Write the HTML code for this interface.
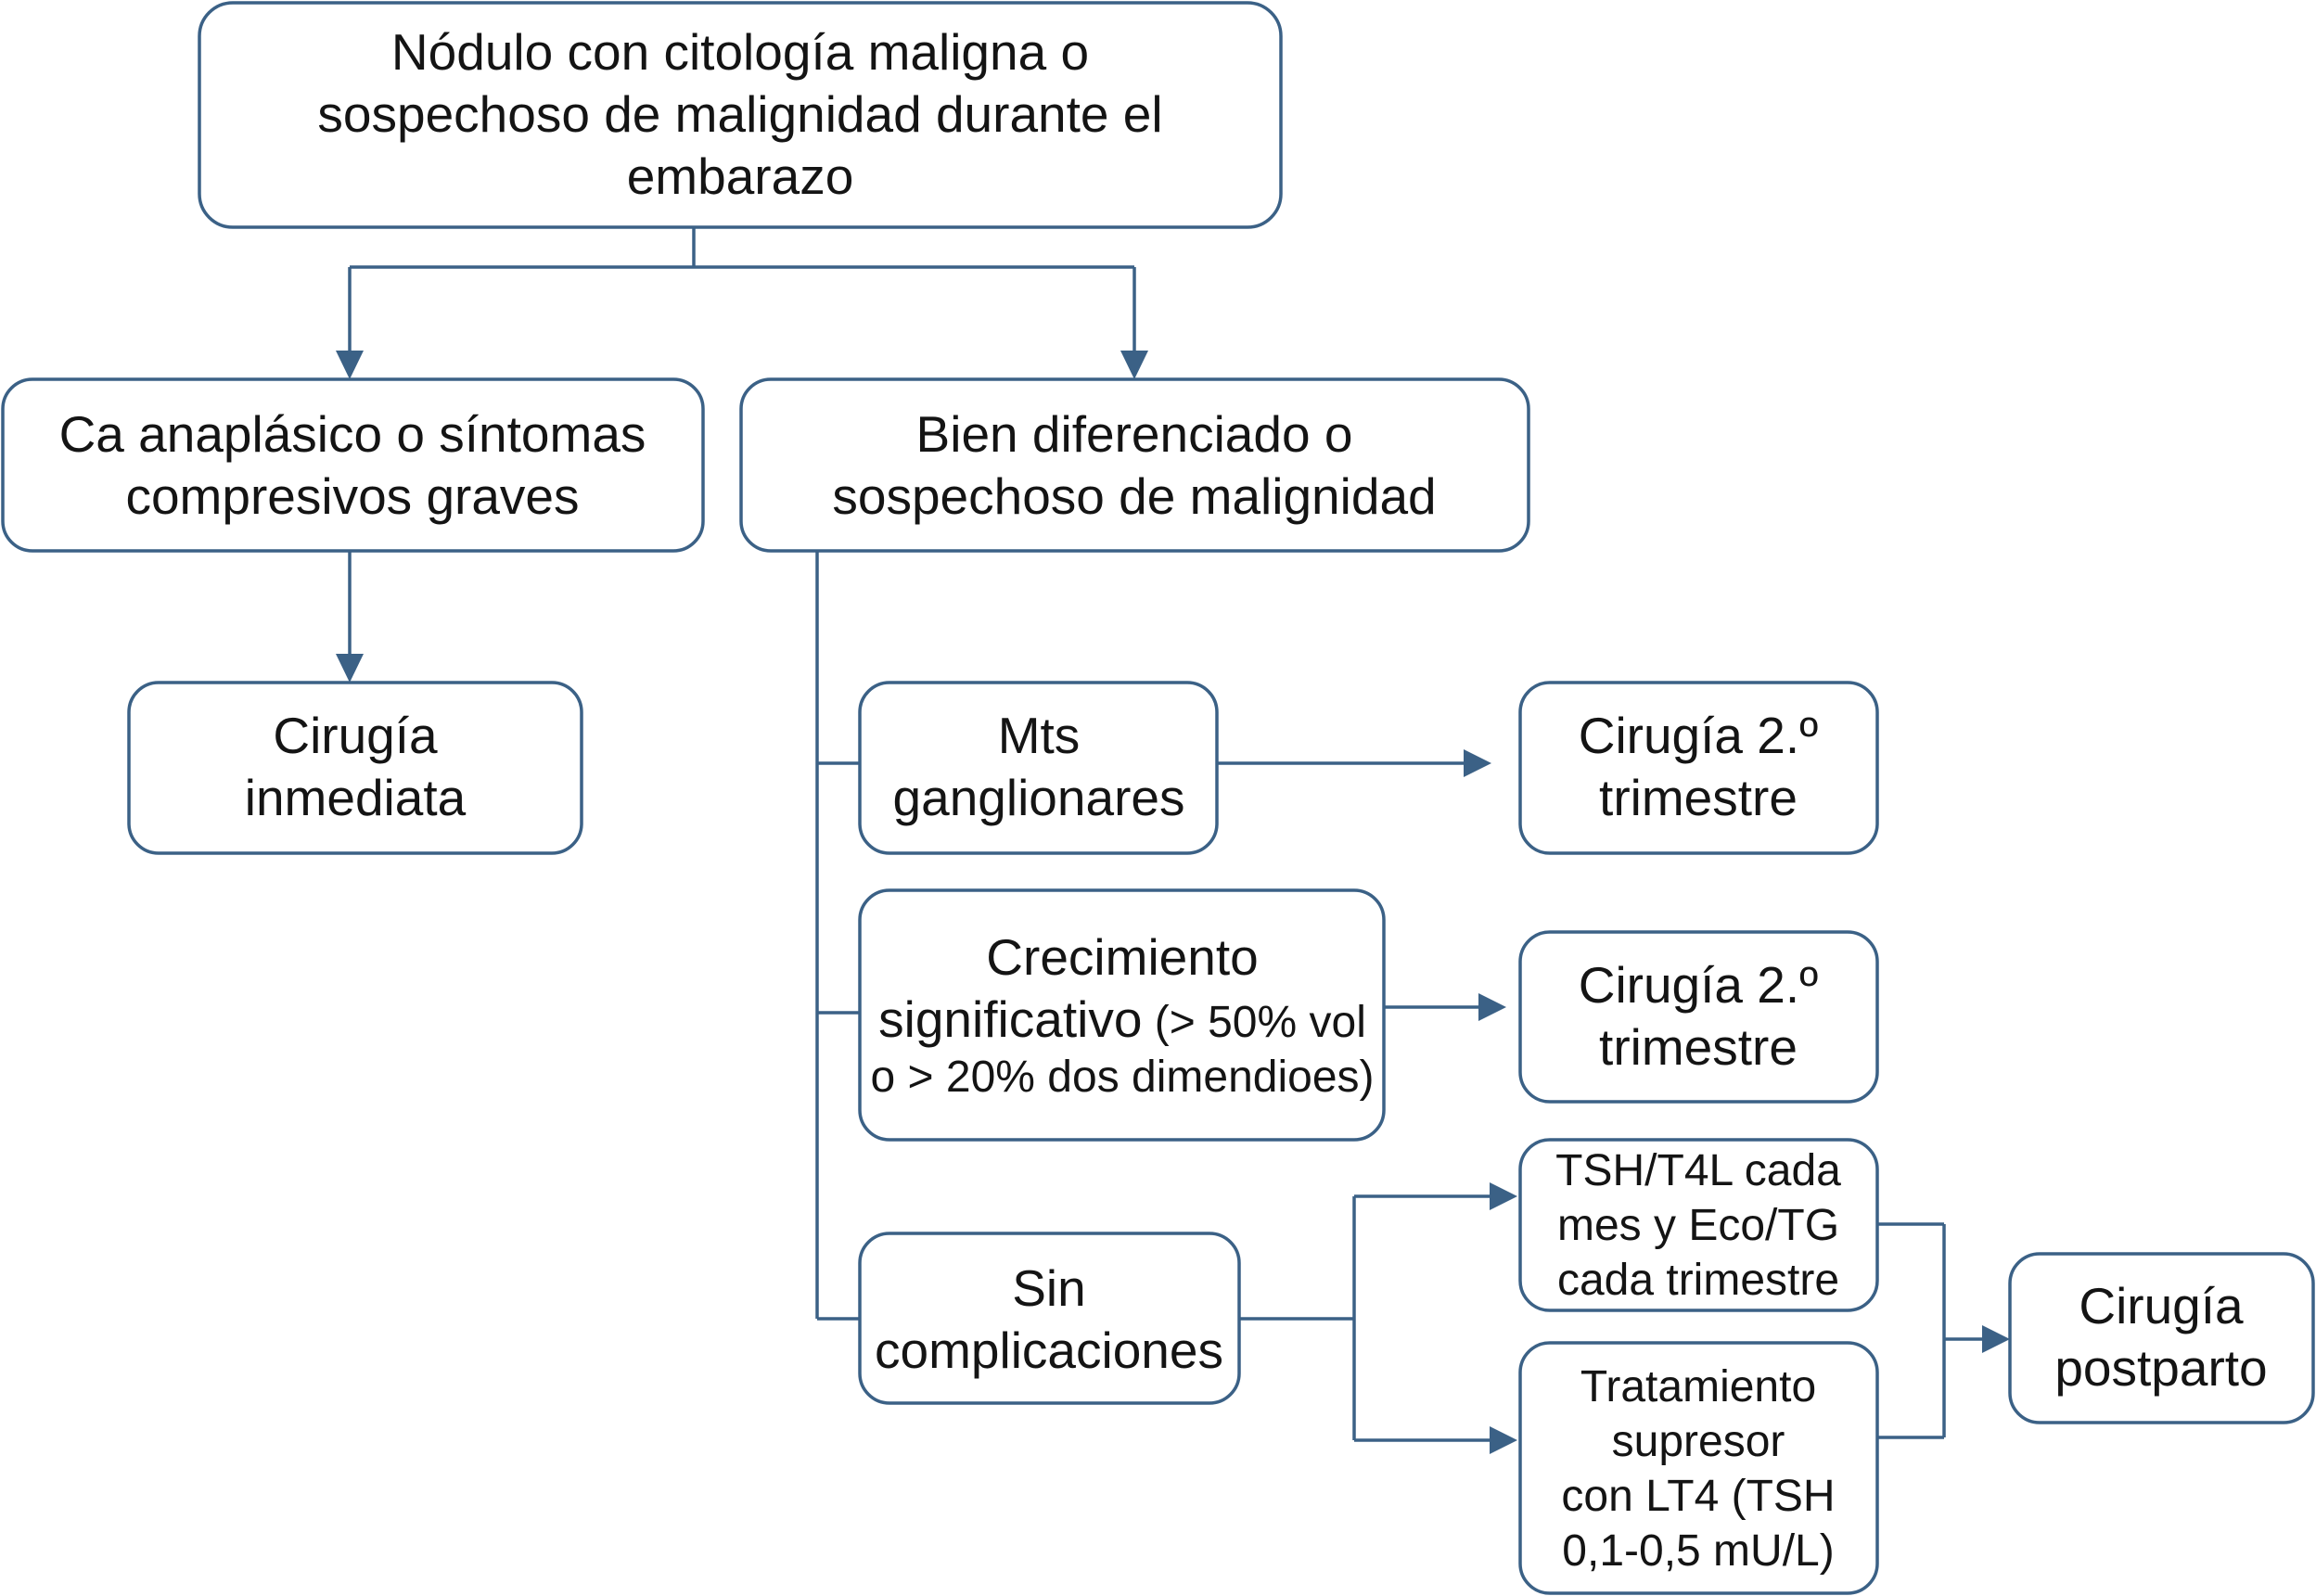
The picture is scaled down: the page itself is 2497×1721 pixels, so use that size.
<!DOCTYPE html>
<html><head><meta charset="utf-8"><style>
html,body{margin:0;padding:0;background:#fff;}
svg{display:block;}
text{font-family:"Liberation Sans",Arial,sans-serif;fill:#141414;text-anchor:middle;}
.b{font-size:55px;}
.s{font-size:48px;}
rect{fill:#fff;stroke:#3b6186;stroke-width:3.5;}
.l{stroke:#3b6186;stroke-width:3.5;fill:none;}
.a{fill:#3b6186;}
</style></head><body>
<svg width="2497" height="1721" viewBox="0 0 2497 1721" xmlns="http://www.w3.org/2000/svg">
<path class="l" d="M748 245 V288 M377 288 H1223 M377 288 V380 M1223 288 V380"/>
<polygon class="a" points="362,378 392,378 377,409"/>
<polygon class="a" points="1208,378 1238,378 1223,409"/>
<path class="l" d="M377 594 V706"/>
<polygon class="a" points="362,705 392,705 377,736"/>
<path class="l" d="M881 594 V1422 M881 823 H927 M881 1092 H927 M881 1422 H927"/>
<path class="l" d="M1312 823 H1580"/>
<polygon class="a" points="1578,808 1578,838 1608,823"/>
<path class="l" d="M1492 1086 H1596"/>
<polygon class="a" points="1594,1071 1594,1101 1624,1086"/>
<path class="l" d="M1336 1422 H1460 M1460 1290 V1553 M1460 1290 H1608 M1460 1553 H1608"/>
<polygon class="a" points="1606,1275 1606,1305 1636,1290"/>
<polygon class="a" points="1606,1538 1606,1568 1636,1553"/>
<path class="l" d="M2024 1320 H2096 M2024 1550 H2096 M2096 1320 V1550 M2096 1444 H2138"/>
<polygon class="a" points="2137,1429 2137,1459 2167,1444"/>
<rect x="215" y="3" width="1166" height="242" rx="36"/>
<rect x="3" y="409" width="755" height="185" rx="32"/>
<rect x="799" y="409" width="849" height="185" rx="32"/>
<rect x="139" y="736" width="488" height="184" rx="32"/>
<rect x="927" y="736" width="385" height="184" rx="32"/>
<rect x="1639" y="736" width="385" height="184" rx="32"/>
<rect x="927" y="960" width="565" height="269" rx="32"/>
<rect x="1639" y="1005" width="385" height="183" rx="32"/>
<rect x="927" y="1330" width="409" height="183" rx="32"/>
<rect x="1639" y="1229" width="385" height="184" rx="32"/>
<rect x="1639" y="1448" width="385" height="270" rx="32"/>
<rect x="2167" y="1352" width="327" height="182" rx="32"/>
<text class="b" x="798" y="75">Nódulo con citología maligna o</text>
<text class="b" x="798" y="142">sospechoso de malignidad durante el</text>
<text class="b" x="798" y="209">embarazo</text>
<text class="b" x="380" y="487">Ca anaplásico o síntomas</text>
<text class="b" x="380" y="554">compresivos graves</text>
<text class="b" x="1223" y="487">Bien diferenciado o</text>
<text class="b" x="1223" y="554">sospechoso de malignidad</text>
<text class="b" x="383" y="812">Cirugía</text>
<text class="b" x="383" y="879">inmediata</text>
<text class="b" x="1120" y="812">Mts</text>
<text class="b" x="1120" y="879">ganglionares</text>
<text class="b" x="1831" y="812">Cirugía 2.º</text>
<text class="b" x="1831" y="879">trimestre</text>
<text class="b" x="1210" y="1051">Crecimiento</text>
<text x="1210" y="1118"><tspan class="b">significativo</tspan><tspan class="s"> (&gt; 50% vol</tspan></text>
<text class="s" x="1210" y="1177">o &gt; 20% dos dimendioes)</text>
<text class="b" x="1831" y="1081">Cirugía 2.º</text>
<text class="b" x="1831" y="1148">trimestre</text>
<text class="b" x="1131" y="1408">Sin</text>
<text class="b" x="1131" y="1475">complicaciones</text>
<text class="s" x="1831" y="1278">TSH/T4L cada</text>
<text class="s" x="1831" y="1337">mes y Eco/TG</text>
<text class="s" x="1831" y="1396">cada trimestre</text>
<text class="s" x="1831" y="1511">Tratamiento</text>
<text class="s" x="1831" y="1570">supresor</text>
<text class="s" x="1831" y="1629">con LT4 (TSH</text>
<text class="s" x="1831" y="1688">0,1-0,5 mU/L)</text>
<text class="b" x="2330" y="1427">Cirugía</text>
<text class="b" x="2330" y="1494">postparto</text>
</svg>
</body></html>
